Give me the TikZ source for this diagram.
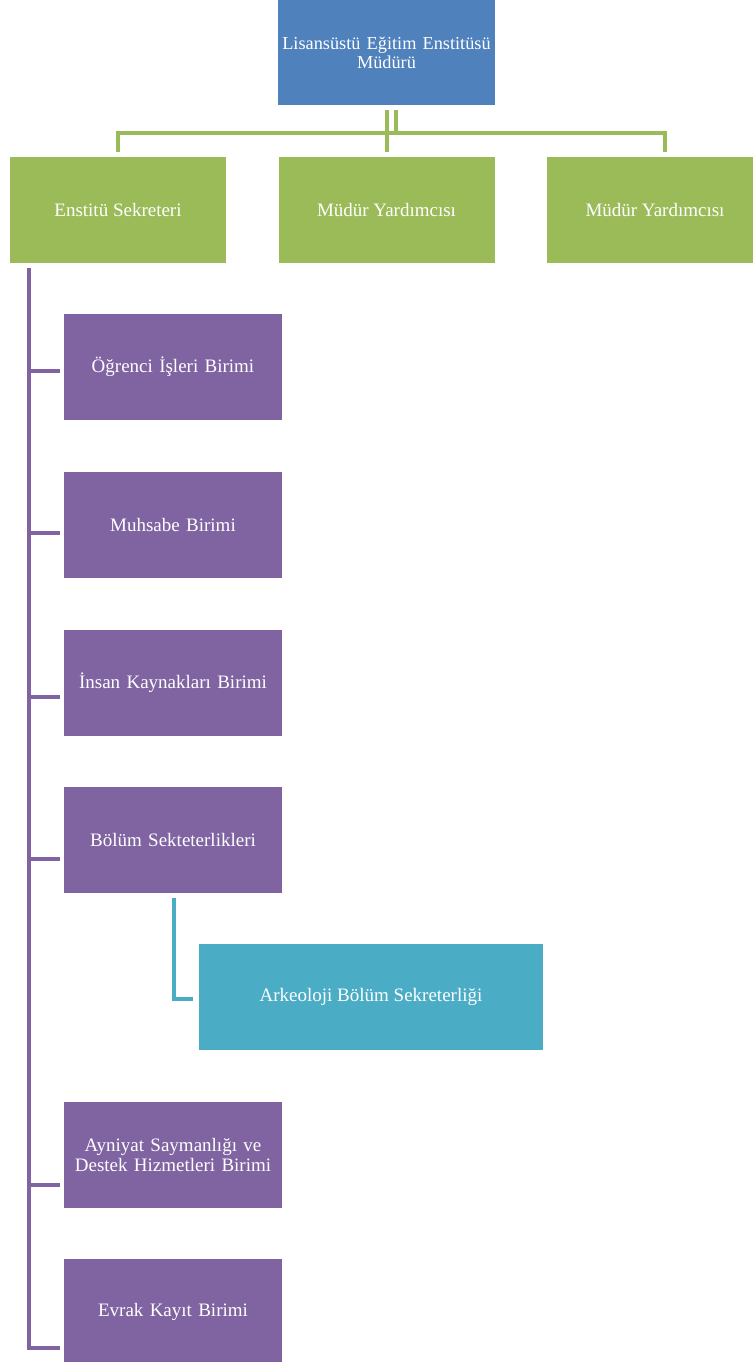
\documentclass[tikz,border=0pt]{standalone}
\usepackage{fontspec}
\setmainfont{Liberation Serif}
\usetikzlibrary{calc}
\definecolor{cblue}{HTML}{4F81BD}
\definecolor{cgreen}{HTML}{9BBB59}
\definecolor{cpurple}{HTML}{8064A2}
\definecolor{ccyan}{HTML}{4BACC6}
\tikzset{
  box/.style={rectangle, inner sep=1pt, text=white, align=center,
    font=\fontsize{19}{20}\selectfont, minimum height=106pt},
  bluebox/.style={box, fill=cblue, minimum width=217pt, minimum height=105pt, text width=215pt,
    font=\fontsize{18.3}{19}\selectfont},
  greenbox/.style={box, fill=cgreen, minimum width=216pt},
  purplebox/.style={box, fill=cpurple, minimum width=218pt, text width=214pt},
  cyanbox/.style={box, fill=ccyan, minimum width=344pt},
  gline/.style={draw=cgreen, line width=4pt},
  pline/.style={draw=cpurple, line width=4pt},
  cline/.style={draw=ccyan, line width=4pt},
}
\begin{document}
\begin{tikzpicture}[x=1pt,y=-1pt]
\useasboundingbox (0,0) rectangle (752,1362);
\node[bluebox] (top) at (386.5,52.5) {Lisansüstü Eğitim Enstitüsü\\Müdürü};
\node[greenbox] (es) at (118,210) {Enstitü Sekreteri};
\node[greenbox] (my1) at (386.5,210) {Müdür Yardımcısı};
\node[greenbox] (my2) at (655,210) {Müdür Yardımcısı};
\node[purplebox] (ogr) at (173,367) {Öğrenci İşleri Birimi};
\node[purplebox] (muh) at (173,525) {Muhsabe Birimi};
\node[purplebox] (ins) at (173,682.5) {İnsan Kaynakları Birimi};
\node[purplebox] (bol) at (173,840) {Bölüm Sekteterlikleri};
\node[cyanbox] (ark) at (371,997) {Arkeoloji Bölüm Sekreterliği};
\node[purplebox] (ayn) at (173,1155) {Ayniyat Saymanlığı ve\\Destek Hizmetleri Birimi};
\node[purplebox] (evr) at (173,1312) {Evrak Kayıt Birimi};
% green connectors
\draw[gline] ($(top.south)+(0.5,5)$) -- ($(my1.north)+(0.5,-5)$);
\draw[gline] ($(top.south)+(9.5,5)$) -- ($(top.south)+(9.5,28)$);
\draw[gline] ($(es.north)+(0,-5)$) |- ($(my2.north)+(10,-24)$) -- ($(my2.north)+(10,-5)$);
% purple spine
\draw[pline] ($(es.south)+(-89,5)$) |- ($(evr.west)+(-4,36)$);
\foreach \n/\dy in {ogr/4,muh/8,ins/14.5,bol/19,ayn/30}{
  \draw[pline] ($(\n.west)+(-35,\dy)$) -- ($(\n.west)+(-4,\dy)$);
}
% cyan connector
\draw[cline] ($(bol.south)+(1,5)$) |- ($(ark.west)+(-6,2)$);
\end{tikzpicture}
\end{document}
